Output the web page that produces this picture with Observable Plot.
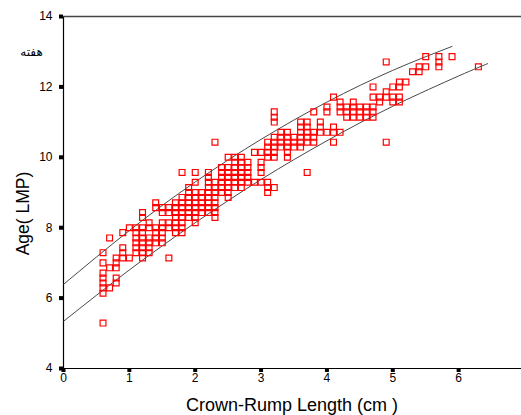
<!DOCTYPE html>
<html>
<head>
<meta charset="utf-8">
<script src="https://cdn.jsdelivr.net/npm/d3@7"></script>
<script src="https://cdn.jsdelivr.net/npm/@observablehq/plot@0.6"></script>
<style>
  html, body { margin: 0; padding: 0; background: #fff; }
  svg { display: block; }
</style>
</head>
<body>
<div id="chart"></div>
<script>
// Crown-rump length columns (cm) and the gestational ages (weeks, LMP) observed at each
const crlColumns = [0.6, 0.7, 0.8, 0.9, 1.0, 1.1, 1.2, 1.3, 1.4, 1.5, 1.6, 1.7, 1.8, 1.9, 2.0, 2.1, 2.2, 2.3, 2.4, 2.5, 2.6, 2.7, 2.8, 2.9, 3.0, 3.1, 3.2, 3.3, 3.4, 3.5, 3.6, 3.7, 3.8, 3.9, 4.0, 4.1, 4.2, 4.3, 4.4, 4.5, 4.6, 4.7, 4.8, 4.9, 5.0, 5.1, 5.2, 5.3, 5.4, 5.5, 5.7, 5.9, 6.3];
const ageByColumn = [
  [7.29, 7.0, 6.71, 6.57, 6.43, 6.29, 6.14, 5.29],
  [7.71, 6.86, 6.29],
  [7.14, 7.0, 6.86, 6.57, 6.43],
  [7.86, 7.43, 7.29, 7.14],
  [8.0, 7.14],
  [8.0, 7.86, 7.71, 7.57, 7.43, 7.29],
  [8.43, 8.29, 8.0, 7.86, 7.71, 7.57, 7.43, 7.29, 7.14],
  [8.14, 8.0, 7.71, 7.57, 7.43, 7.29],
  [8.71, 8.57, 8.0, 7.86, 7.71, 7.57],
  [8.57, 8.43, 8.14, 8.0, 7.86, 7.71, 7.57],
  [8.57, 8.43, 8.14, 8.0, 7.14],
  [8.71, 8.57, 8.43, 8.29, 8.14, 8.0, 7.86],
  [9.57, 8.86, 8.71, 8.57, 8.43, 8.29, 8.14, 8.0, 7.86],
  [9.14, 9.0, 8.86, 8.71, 8.57, 8.43, 8.29],
  [9.57, 9.29, 9.0, 8.86, 8.71, 8.57, 8.43, 8.29, 8.14],
  [9.0, 8.86, 8.71, 8.57, 8.43],
  [9.57, 9.43, 9.29, 9.14, 9.0, 8.86, 8.71, 8.57, 8.43],
  [10.43, 9.29, 9.14, 9.0, 8.86, 8.71, 8.57, 8.43, 8.29],
  [9.71, 9.57, 9.43, 9.29, 9.14, 9.0],
  [10.0, 9.71, 9.57, 9.43, 9.29, 9.14, 9.0, 8.86],
  [10.0, 9.86, 9.71, 9.57, 9.43, 9.29, 9.14],
  [10.0, 9.86, 9.71, 9.57, 9.43, 9.29, 9.14],
  [9.86, 9.71, 9.57, 9.43, 9.29],
  [10.14, 9.29],
  [10.14, 9.86, 9.71, 9.57, 9.29],
  [10.43, 10.29, 10.14, 10.0, 9.29, 9.14, 9.0],
  [11.29, 11.14, 11.0, 10.57, 10.43, 10.29, 10.14, 10.0, 9.14],
  [10.71, 10.57, 10.43, 10.29],
  [10.71, 10.57, 10.43, 10.29, 10.14, 10.0],
  [10.57, 10.43, 10.29],
  [11.0, 10.86, 10.71, 10.57, 10.43, 10.29],
  [11.0, 10.86, 10.71, 10.57, 10.43, 9.57],
  [11.29, 10.71, 10.57, 10.43],
  [11.0, 10.86, 10.71],
  [11.43, 11.29, 10.71],
  [11.71, 10.86, 10.71, 10.43],
  [11.57, 11.43, 11.29, 10.71],
  [11.43, 11.29, 11.14],
  [11.57, 11.43, 11.29, 11.14],
  [11.43, 11.29, 11.14],
  [11.43, 11.29, 11.14],
  [12.0, 11.71, 11.43, 11.29, 11.14],
  [11.71, 11.57],
  [12.71, 11.86, 11.71, 10.43],
  [12.0, 11.71, 11.57],
  [12.14, 12.0, 11.71, 11.57],
  [12.14],
  [12.43],
  [12.57, 12.43],
  [12.86, 12.57],
  [12.86, 12.71, 12.57],
  [12.86],
  [12.57]
];

// Upper and lower reference curves
const upperX = [0, 1, 2, 3, 4, 5, 5.9];
const upperY = [6.39, 7.92, 9.30, 10.51, 11.57, 12.47, 13.15];
const lowerX = [0, 1, 2, 3, 4, 5, 6, 6.44];
const lowerY = [5.34, 6.80, 8.14, 9.37, 10.47, 11.45, 12.31, 12.66];

// Axis ticks and texts
const xTicks = [0, 1, 2, 3, 4, 5, 6, 7];
const yTicks = [4, 6, 8, 10, 12, 14];
const xTitle = "Crown-Rump Length (cm )";
const yTitle = "Age( LMP)";
const unitNote = "هفته";

const points = crlColumns.flatMap((c, i) => ageByColumn[i].map(a => ({crl: c, age: a})));
const upper = upperX.map((x, i) => ({x, y: upperY[i]}));
const lower = lowerX.map((x, i) => ({x, y: lowerY[i]}));

const chart = Plot.plot({
  width: 521,
  height: 415,
  marginLeft: 63,
  marginRight: -3,
  marginTop: 16,
  marginBottom: 47,
  x: {domain: [0, 7]},
  y: {domain: [4, 14]},
  style: {fontFamily: "'Liberation Sans', Arial, sans-serif", fontSize: "12px", color: "#000", background: "#fff", overflow: "visible"},
  marks: [
    Plot.axisY(yTicks, {tickSize: 4, tickPadding: 7, strokeWidth: 4, stroke: "#000", label: null, fontSize: 12}),
    Plot.axisX(xTicks, {tickSize: 4, tickPadding: 1, strokeWidth: 4, stroke: "#000", label: null, fontSize: 12}),
    Plot.ruleX([0], {stroke: "#000", strokeWidth: 1.2}),
    Plot.ruleY([4], {stroke: "#000", strokeWidth: 1.2}),
    Plot.ruleY([14], {stroke: "#444", strokeWidth: 1.5}),
    Plot.line(upper, {x: "x", y: "y", curve: "natural", stroke: "#333", strokeWidth: 0.9}),
    Plot.line(lower, {x: "x", y: "y", curve: "natural", stroke: "#333", strokeWidth: 0.9}),
    Plot.dot(points, {x: "crl", y: "age", symbol: "square", r: 3.3, stroke: "#f00", strokeWidth: 1.2, fill: "none"}),
    Plot.text([xTitle], {frameAnchor: "bottom", dy: 37, dx: -2, lineAnchor: "middle", fontSize: 18, fill: "#000"}),
    Plot.text([yTitle], {frameAnchor: "left", dx: -40, dy: 21, rotate: -90, lineAnchor: "middle", textAnchor: "middle", fontSize: 17.5, fill: "#000"}),
    Plot.text([unitNote], {frameAnchor: "top-left", dx: -32, dy: 36, lineAnchor: "middle", textAnchor: "middle", fontSize: 12, fontFamily: "'DejaVu Sans', 'Noto Sans', sans-serif", fill: "#000"})
  ]
});
document.getElementById("chart").appendChild(chart);
</script>
</body>
</html>
